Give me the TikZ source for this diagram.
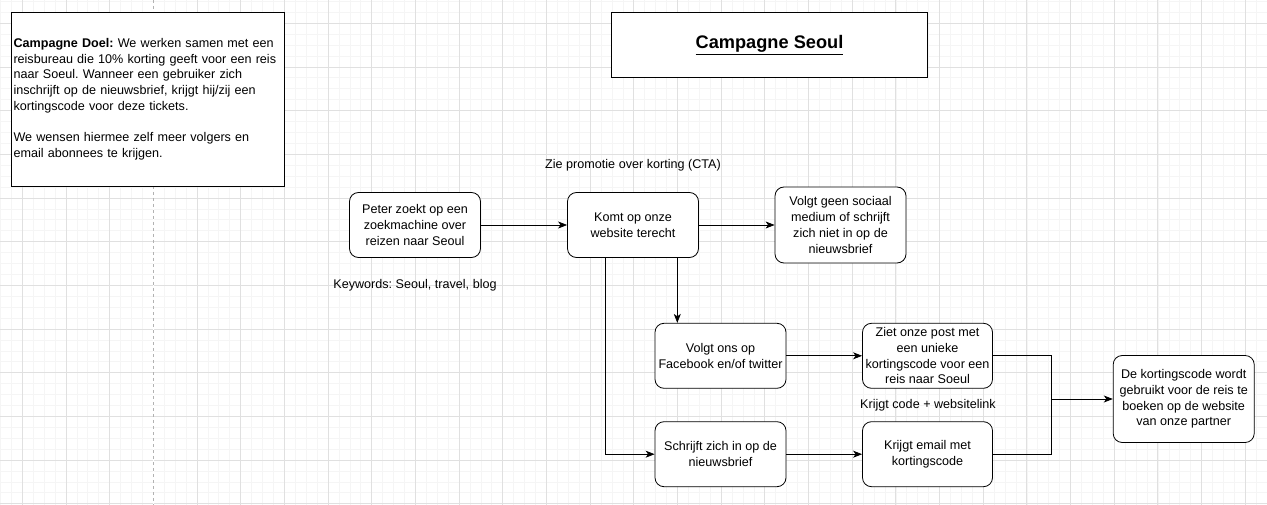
\documentclass[tikz,border=0pt]{standalone}
\usepackage{fontspec}
\setmainfont{Liberation Sans}
\usetikzlibrary{arrows.meta}
\frenchspacing

\begin{document}
\begin{tikzpicture}[x=1pt,y=-1pt,
	every node/.style={font=\fontsize{12.6}{15.7}\selectfont},
	stepbox/.style={draw, thick, rounded corners=9pt, align=center, minimum width=131pt, minimum height=65pt, inner sep=1pt},
	plainbox/.style={draw, thick, inner sep=2pt},
	arr/.style={thick, -{Stealth[length=9pt,width=7pt,inset=2.5pt]}},
	line/.style={thick}]
	\useasboundingbox (0,0) rectangle (1267,505);
	\begin{scope}
	\clip (0,0) rectangle (1267,505);
	\draw[black!4, line width=0.8pt, shift={(0.46,1.46)}] (-20,-20) grid[step=10.92pt] (1300,540);
	\draw[black!12, line width=0.9pt, shift={(22.3,23.3)}] (-50,-50) grid[step=43.67pt] (1300,540);
	\draw[white, line width=1.5pt] (153.3,0) -- (153.3,505);
	\draw[black!30, dashed, line width=0.9pt] (153.3,0) -- (153.3,505);
	\end{scope}

	\node[plainbox, fill=white, text width=269pt, minimum height=174pt, align=left] (goal) at (148,99)
		{\textbf{Campagne Doel:} We werken samen met een\\ reisbureau die 10\% korting geeft voor een reis\\ naar Soeul. Wanneer een gebruiker zich\\ inschrijft op de nieuwsbrief, krijgt hij/zij een\\ kortingscode voor deze tickets.\\[15.7pt] We wensen hiermee zelf meer volgers en\\ email abonnees te krijgen.};
	\node[plainbox, fill=white, minimum width=316pt, minimum height=65pt] (title) at (769.5,44.8)
		{\fontsize{18.2}{21}\selectfont\underline{\textbf{Campagne Seoul}}};

	\node[stepbox, fill=white] (peter) at (415,225) {Peter zoekt op een\\ zoekmachine over\\ reizen naar Seoul};
	\node[stepbox, fill=white] (komt) at (633,225) {Komt op onze\\ website terecht};
	\node[stepbox, fill=white, minimum height=76pt] (geen) at (840.5,225) {Volgt geen sociaal\\ medium of schrijft\\ zich niet in op de\\ nieuwsbrief};
	\node[stepbox, fill=white] (volgt) at (720.5,355.8) {Volgt ons op\\ Facebook en/of twitter};
	\node[stepbox, fill=white, minimum width=130pt] (ziet) at (927.5,355.8) {Ziet onze post met\\ een unieke\\ kortingscode voor een\\ reis naar Soeul};
	\node[stepbox, fill=white] (schrijft) at (720.5,454.2) {Schrijft zich in op de\\ nieuwsbrief};
	\node[stepbox, fill=white, minimum width=130pt] (krijgt) at (927.5,454.2) {Krijgt email met\\ kortingscode};
	\node[stepbox, fill=white, minimum width=141pt, minimum height=87pt] (final) at (1183.7,399) {De kortingscode wordt\\ gebruikt voor de reis te\\ boeken op de website\\ van onze partner};

	\node (cta) at (633,165.7) {Zie promotie over korting (CTA)};
	\node (keys) at (415,285.7) {Keywords: Seoul, travel, blog};
	\node (codelink) at (928,405.7) {Krijgt code + websitelink};

	\coordinate (join) at ([xshift=-61pt]final.west);
	\draw[arr] (peter) -- (komt);
	\draw[arr] (komt) -- (geen);
	\draw[arr] ([xshift=44.3pt]komt.south) -- ([xshift=44.3pt]komt.south |- volgt.north);
	\draw[arr] ([xshift=-28pt]komt.south) |- (schrijft.west);
	\draw[arr] (volgt) -- (ziet);
	\draw[arr] (schrijft) -- (krijgt);
	\draw[line] (ziet.east) -| (join);
	\draw[line] (krijgt.east) -| (join);
	\draw[arr] (join) -- (final.west);
\end{tikzpicture}
\end{document}
